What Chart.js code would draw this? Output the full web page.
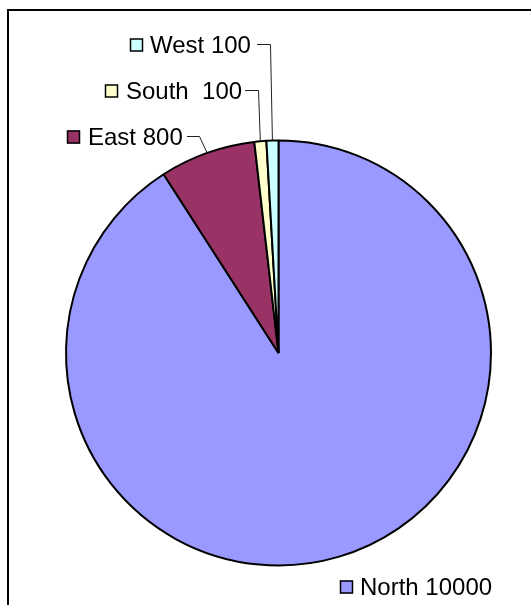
<!DOCTYPE html>
<html>
<head>
<meta charset="utf-8">
<script src="https://cdn.jsdelivr.net/npm/chart.js@4"></script>
<style>
  html, body { margin: 0; padding: 0; background: #fff; }
  #wrap { width: 531px; height: 605px; position: relative; }
</style>
</head>
<body>
<div id="wrap"><canvas id="regionPie" width="531" height="605"></canvas></div>
<script>
// Region totals
const regions = ['North', 'East', 'South', 'West'];
const regionValues = [10000, 800, 100, 100];
const sliceLabels = ['North 10000', 'East 800', 'South  100', 'West 100'];
const sliceColors = ['#9999FF', '#993366', '#FFFFCC', '#CCFFFF'];

// where each label box sits (left of key square, vertical centre) and its leader line
const labelSpots = [
    { x: 340, y: 587, textX: 360, leader: null },
    { x: 67, y: 137, textX: 88, leader: [[187, 136], [199, 136]] },
    { x: 105, y: 91, textX: 126, leader: [[245, 90], [258, 90]] },
    { x: 130, y: 45, textX: 150, leader: [[257, 44], [270, 44]] }
];

const frameAndLabels = {
    id: 'frameAndLabels',
    beforeDraw(chart) {
        const ctx = chart.ctx;
        ctx.save();
        ctx.strokeStyle = '#000';
        ctx.lineWidth = 2;
        ctx.beginPath();
        ctx.moveTo(8, 605);
        ctx.lineTo(8, 10);
        ctx.lineTo(531, 10);
        ctx.stroke();
        ctx.restore();
    },
    afterDraw(chart) {
        const ctx = chart.ctx;
        const arcs = chart.getDatasetMeta(0).data;
        ctx.save();
        ctx.font = '24px "Liberation Sans", Arial, sans-serif';
        ctx.textBaseline = 'middle';
        ctx.textAlign = 'left';
        arcs.forEach((arc, i) => {
            const spot = labelSpots[i];
            // key square
            ctx.fillStyle = sliceColors[i];
            ctx.fillRect(spot.x, spot.y - 6.5, 13, 13);
            ctx.strokeStyle = '#000';
            ctx.lineWidth = 1.5;
            ctx.strokeRect(spot.x + 0.5, spot.y - 6, 12, 12);
            ctx.fillStyle = '#000';
            ctx.fillText(sliceLabels[i], spot.textX, spot.y + 1);
            if (spot.leader) {
                const mid = (arc.startAngle + arc.endAngle) / 2;
                const ex = arc.x + Math.cos(mid) * arc.outerRadius;
                const ey = arc.y + Math.sin(mid) * arc.outerRadius;
                ctx.strokeStyle = '#222';
                ctx.lineWidth = 1;
                ctx.beginPath();
                ctx.moveTo(spot.leader[0][0], spot.leader[0][1] + 0.5);
                ctx.lineTo(spot.leader[1][0] + 0.5, spot.leader[1][1] + 0.5);
                ctx.lineTo(ex, ey);
                ctx.stroke();
            }
        });
        ctx.restore();
    }
};

new Chart(document.getElementById('regionPie').getContext('2d'), {
    type: 'pie',
    data: {
        labels: regions,
        datasets: [{
            data: regionValues,
            backgroundColor: sliceColors,
            borderColor: '#000',
            borderWidth: 2
        }]
    },
    options: {
        responsive: false,
        animation: false,
        layout: { padding: { left: 65, right: 39, top: 139, bottom: 38 } },
        plugins: {
            legend: { display: false },
            tooltip: { enabled: false }
        }
    },
    plugins: [frameAndLabels]
});
</script>
</body>
</html>
